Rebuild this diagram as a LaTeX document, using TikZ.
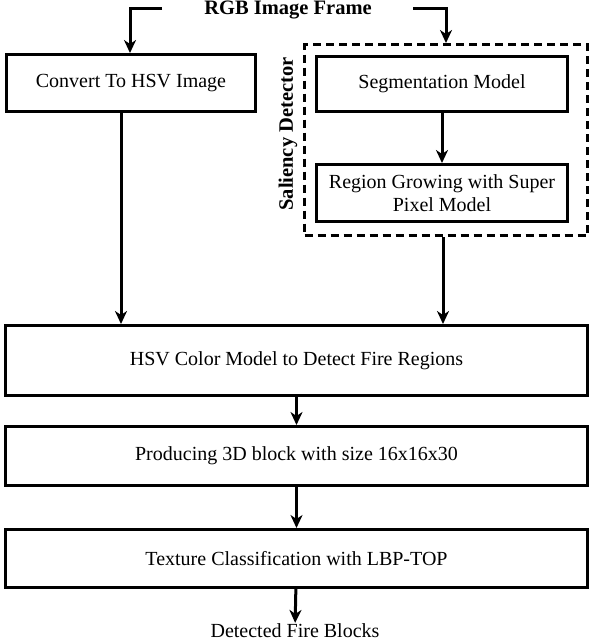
\documentclass[tikz,border=0pt]{standalone}
\usepackage{fontspec}
\setmainfont{Liberation Serif}
\usepackage{tikz}
\usetikzlibrary{arrows.meta,positioning,calc}

\begin{document}
\begin{tikzpicture}[
  x=1pt, y=-1pt,
  nodebox/.style={draw=black, fill=white, line width=3pt, align=center, inner sep=0pt, font=\fontsize{20}{23}\selectfont},
  widebox/.style={nodebox, minimum width=582pt},
  groupbox/.style={draw=black, line width=3pt, dash pattern=on 8pt off 5pt, inner sep=0pt},
  titletext/.style={font=\fontsize{20.5}{23}\selectfont\bfseries, inner sep=0pt},
  arrow/.style={-{Stealth[length=13pt, width=12pt, inset=4pt]}, line width=3pt}
]
\useasboundingbox (0,0) rectangle (592,640);

% input frame
\node[titletext] (frame) at (288,10) {RGB Image Frame};
\coordinate (lstart) at (162,8);
\coordinate (rstart) at (413,8);

% left branch
\node[nodebox, minimum width=249pt, minimum height=57pt] (convert) at (131,83) {Convert To HSV Image};

% saliency detector
\node[groupbox, minimum width=283pt, minimum height=191pt] (saliency) at (446,140) {};
\node[nodebox, minimum width=251pt, minimum height=55pt] (segment) at (442,84) {Segmentation Model};
\node[nodebox, minimum width=251pt, minimum height=57pt, below=50pt of segment] (region) {Region Growing with Super\\Pixel Model};
\node[titletext, rotate=90] (saltitle) at (288,134) {Saliency Detector};

% main chain
\node[widebox, minimum height=70pt] (hsvcolor) at (296.5,360.5) {HSV Color Model to Detect Fire Regions};
\node[widebox, minimum height=59pt, below=28pt of hsvcolor] (block3d) {Producing 3D block with size 16x16x30};
\node[widebox, minimum height=58pt, below=41pt of block3d] (texture) {Texture Classification with LBP-TOP};
\node[font=\fontsize{20}{23}\selectfont, inner sep=0pt, anchor=base] (fire) at (295,637) {Detected Fire Blocks};

\draw[arrow] (lstart) -| ([xshift=-1pt]convert.north);
\draw[arrow] (rstart) -| (saliency.north);
\draw[arrow] (segment) -- (region);
\draw[arrow] ([xshift=-10pt]convert.south) -- ([xshift=-10pt]convert.south |- hsvcolor.north);
\draw[arrow] ([xshift=-3pt]saliency.south) -- ([xshift=-3pt]saliency.south |- hsvcolor.north);
\draw[arrow] (hsvcolor) -- (block3d);
\draw[arrow] (block3d) -- (texture);
\draw[arrow] (texture) -- (fire);
\end{tikzpicture}
\end{document}
